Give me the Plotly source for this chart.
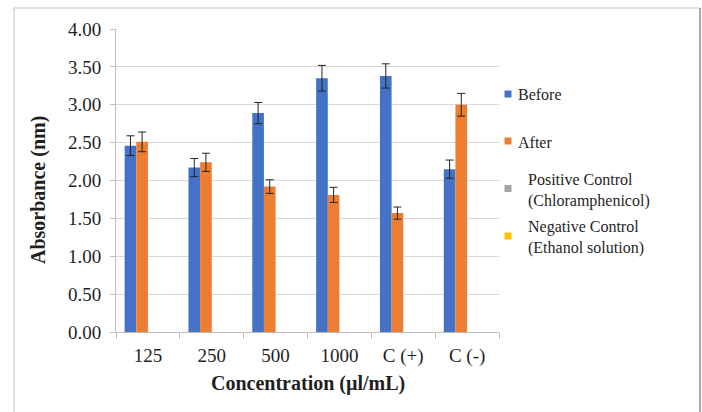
import plotly.graph_objects as go

categories = ["125", "250", "500", "1000", "C (+)", "C (-)"]
series_names = ["Before", "After", "Positive Control<br>(Chloramphenicol)", "Negative Control<br>(Ethanol solution)"]
series_colors = ["#4472C4", "#ED7D31", "#A5A5A5", "#FFC000"]
before = [2.46, 2.17, 2.89, 3.35, 3.38, 2.15]
before_err = [0.13, 0.12, 0.14, 0.17, 0.16, 0.12]
after = [2.51, 2.24, 1.92, 1.81, 1.57, 3.00]
after_err = [0.13, 0.12, 0.09, 0.10, 0.08, 0.15]
positive = [None] * 6
negative = [None] * 6
y_ticks = [0, 0.5, 1, 1.5, 2, 2.5, 3, 3.5, 4]

FONT = "Liberation Serif"
TXT = "#1f1f1f"

# plot area in pixels
W, H = 702, 412
L, R, T, B = 116, 499, 29, 332


def px(x):
    return (x - L) / (R - L)


def py(y):
    return (B - y) / (B - T)


fig = go.Figure()
values = [before, after, positive, negative]
errs = [before_err, after_err, None, None]
for name, col, vals, err in zip(series_names, series_colors, values, errs):
    kw = {}
    if err is not None:
        kw["error_y"] = dict(type="data", array=err, visible=True, color="#222222",
                             thickness=1, width=4)
    fig.add_trace(go.Bar(x=categories, y=vals, name=name, marker_color=col,
                         marker_line_width=0, showlegend=False, **kw))

shapes = []
annotations = []
# outer frame
shapes.append(dict(type="line", xref="paper", yref="paper", x0=px(14), x1=px(14),
                   y0=py(8), y1=py(430), line=dict(color="#BFBFBF", width=1)))
shapes.append(dict(type="line", xref="paper", yref="paper", x0=px(14), x1=px(700),
                   y0=py(8), y1=py(8), line=dict(color="#BFBFBF", width=1)))
shapes.append(dict(type="line", xref="paper", yref="paper", x0=px(700), x1=px(700),
                   y0=py(8), y1=py(430), line=dict(color="#8C8C8C", width=1.5)))

# legend
leg_sq_y = [94, 141, 188.5, 236]
leg_txt_y = [94, 142, 190, 237]
leg_txt_x = [516, 516, 526, 526]
for name, col, sy, ty, tx in zip(series_names, series_colors, leg_sq_y, leg_txt_y, leg_txt_x):
    shapes.append(dict(type="rect", xref="paper", yref="paper",
                       x0=px(504.5), x1=px(511.5), y0=py(sy - 3.5), y1=py(sy + 3.5),
                       fillcolor=col, line=dict(width=0)))
    annotations.append(dict(xref="paper", yref="paper", x=px(tx), y=py(ty),
                            xanchor="left", yanchor="middle", text=name, showarrow=False,
                            align="left", font=dict(family=FONT, size=16, color=TXT)))

annotations.append(dict(xref="paper", yref="paper", x=px(38), y=py(190), textangle=-90,
                        xanchor="center", yanchor="middle", showarrow=False,
                        text="<b>Absorbance (nm)</b>",
                        font=dict(family=FONT, size=20, color=TXT)))
annotations.append(dict(xref="paper", yref="paper", x=px(308), y=py(383),
                        xanchor="center", yanchor="middle", showarrow=False,
                        text="<b>Concentration (µl/mL)</b>",
                        font=dict(family=FONT, size=20, color=TXT)))

fig.update_layout(
    width=W, height=H,
    margin=dict(l=L, r=W - R, t=T, b=H - B, pad=0),
    paper_bgcolor="white", plot_bgcolor="white",
    barmode="group", bargap=0.27, bargroupgap=0,
    shapes=shapes, annotations=annotations,
    showlegend=False,
    font=dict(family=FONT, size=19, color=TXT),
)
fig.update_xaxes(type="category", showline=True, linecolor="#BFBFBF", linewidth=1,
                 ticks="outside", tickson="boundaries", ticklen=6, tickcolor="#BFBFBF",
                 ticklabelstandoff=6,
                 showgrid=False, tickfont=dict(family=FONT, size=19, color=TXT))
fig.update_yaxes(range=[0, 4], tickvals=y_ticks, tickformat=".2f", showline=True,
                 linecolor="#BFBFBF", linewidth=1, ticks="outside", ticklen=5,
                 ticklabelstandoff=5,
                 tickcolor="#BFBFBF", showgrid=True, gridcolor="#D9D9D9", gridwidth=1,
                 zeroline=False, tickfont=dict(family=FONT, size=19, color=TXT))

fig.write_html("out.html")
